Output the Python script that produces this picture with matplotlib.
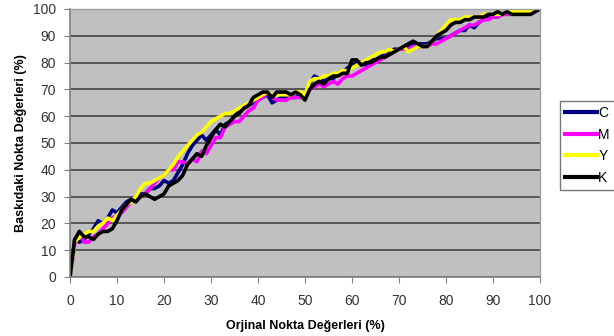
import matplotlib
matplotlib.use("Agg")
import matplotlib.pyplot as plt

plt.rcParams['font.family'] = ['Liberation Sans', 'DejaVu Sans']

x = list(range(0, 101))
series_names = ["C", "M", "Y", "K"]
C = [0, 14, 13, 14, 16, 18, 21, 20, 22, 25, 24, 26, 28, 29, 29, 31, 31, 33, 33, 34,
     36, 35, 36, 39, 42, 46, 49, 51, 53, 51, 53, 55, 53, 57, 58, 60, 62, 63, 64, 65,
     66, 67, 68, 65, 66, 67, 67, 67, 67, 68, 68, 72, 75, 74, 73, 74, 74, 76, 76, 78,
     79, 80, 80, 79, 81, 81, 82, 83, 84, 85, 85, 86, 86, 87, 87, 87, 87, 88, 89, 89,
     89, 90, 91, 92, 92, 94, 93, 95, 96, 97, 97, 97, 98, 99, 99, 99, 99, 99, 99, 100, 100]
M = [0, 12, 17, 13, 13, 15, 16, 18, 20, 22, 23, 24, 26, 28, 29, 30, 31, 33, 35, 37,
     38, 40, 40, 43, 43, 42, 44, 43, 47, 46, 49, 52, 52, 56, 57, 58, 58, 60, 62, 63,
     66, 67, 69, 67, 66, 66, 66, 67, 67, 67, 67, 70, 71, 72, 71, 72, 73, 72, 74, 75,
     75, 76, 77, 78, 79, 80, 81, 82, 83, 84, 85, 85, 85, 86, 86, 86, 86, 87, 87, 88,
     89, 90, 91, 92, 93, 94, 94, 95, 96, 96, 97, 97, 98, 98, 98, 99, 99, 99, 99, 100, 100]
Y = [0, 13, 15, 16, 17, 17, 19, 20, 22, 21, 23, 25, 27, 28, 30, 33, 35, 35, 36, 37,
     38, 40, 42, 45, 47, 49, 51, 53, 54, 56, 58, 59, 60, 61, 61, 62, 63, 64, 65, 66,
     67, 68, 69, 68, 68, 68, 68, 68, 69, 69, 68, 73, 74, 74, 75, 75, 76, 76, 77, 77,
     78, 79, 80, 81, 82, 83, 84, 84, 85, 84, 85, 86, 84, 85, 86, 86, 86, 88, 90, 92,
     94, 96, 96, 96, 97, 97, 97, 97, 98, 98, 98, 98, 98, 99, 99, 99, 99, 99, 99, 100, 100]
K = [0, 14, 17, 15, 15, 14, 16, 17, 17, 18, 21, 25, 27, 29, 28, 30, 31, 30, 29, 30,
     31, 34, 35, 36, 38, 42, 44, 46, 45, 49, 52, 55, 57, 56, 58, 60, 61, 63, 64, 67,
     68, 69, 69, 67, 69, 69, 69, 68, 69, 68, 66, 70, 72, 73, 72, 74, 75, 75, 76, 76,
     81, 81, 79, 80, 80, 81, 82, 82, 83, 84, 85, 86, 87, 88, 87, 86, 86, 88, 90, 91,
     92, 94, 95, 95, 96, 96, 97, 97, 97, 98, 98, 99, 98, 99, 98, 98, 98, 98, 98, 99, 100]
colors = ["#000080", "#FF00FF", "#FFFF00", "#000000"]
xticks = list(range(0, 101, 10))
yticks = list(range(0, 101, 10))

fig = plt.figure(figsize=(6.14, 3.36), dpi=100)
ax = fig.add_axes([70/614, 59/336, 470/614, 268/336])
ax.set_facecolor("#C0C0C0")

for name, ys, c in zip(series_names, [C, M, Y, K], colors):
    ax.plot(x, ys, color=c, lw=2.6, label=name, solid_joinstyle='round')

ax.set_xlim(0, 100)
ax.set_ylim(0, 100)
ax.set_xticks(xticks)
ax.set_yticks(yticks)
ax.yaxis.grid(True, color="#4d4d4d", lw=1.3)
ax.set_axisbelow(True)
for s in ["top", "right"]:
    ax.spines[s].set_color("#a0a0a0")
    ax.spines[s].set_linewidth(1.0)
for s in ["left", "bottom"]:
    ax.spines[s].set_color("#808080")
    ax.spines[s].set_linewidth(1.2)
ax.tick_params(axis='both', direction='out', length=4, color="#808080",
               labelsize=10, labelcolor="#333333")
ax.tick_params(axis='x', pad=8)
ax.tick_params(axis='y', pad=6)

ax.set_xlabel("Orjinal Nokta Değerleri (%)", fontsize=9, fontweight='bold', labelpad=9)
ax.set_ylabel("Baskıdaki Nokta Değerleri (%)", fontsize=9, fontweight='bold', labelpad=4)

leg = fig.legend(loc='upper left', bbox_to_anchor=(560/614, 1 - 101/336),
                 frameon=True, fancybox=False, shadow=False, fontsize=10,
                 handlelength=2.3, handletextpad=0.1, borderpad=0.35,
                 labelspacing=0.55, borderaxespad=0)
leg.get_frame().set_edgecolor("#555555")
leg.get_frame().set_linewidth(1.0)
for line in leg.get_lines():
    line.set_linewidth(3)

fig.savefig("out.png", dpi=100)
